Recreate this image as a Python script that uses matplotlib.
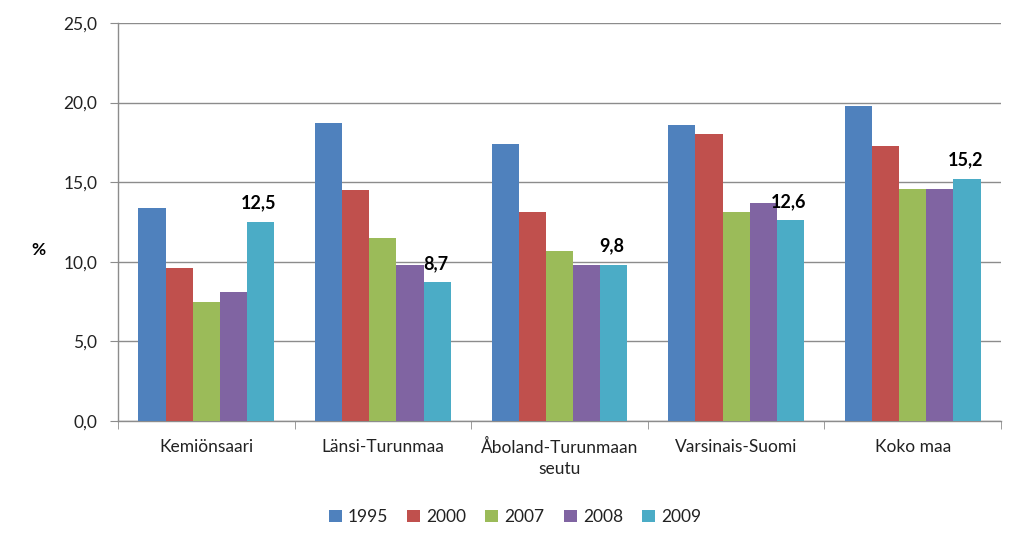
import matplotlib
matplotlib.use("Agg")
import matplotlib.pyplot as plt
import numpy as np
from matplotlib.ticker import FixedLocator, FuncFormatter

categories = ["Kemiönsaari", "Länsi-Turunmaa", "Åboland-Turunmaan\nseutu", "Varsinais-Suomi", "Koko maa"]
years = ["1995", "2000", "2007", "2008", "2009"]
v1995 = [13.4, 18.7, 17.4, 18.6, 19.8]
v2000 = [9.6, 14.5, 13.1, 18.0, 17.3]
v2007 = [7.5, 11.5, 10.7, 13.1, 14.6]
v2008 = [8.1, 9.8, 9.8, 13.7, 14.6]
v2009 = [12.5, 8.7, 9.8, 12.6, 15.2]
labels2009 = ["12,5", "8,7", "9,8", "12,6", "15,2"]
series = [v1995, v2000, v2007, v2008, v2009]
colors = ["#4F81BD", "#C0504D", "#9BBB59", "#8064A2", "#4BACC6"]

plt.rcParams['font.family'] = ['Lato', 'DejaVu Sans']

fig = plt.figure(figsize=(10.24, 5.47), dpi=100)
ax = fig.add_axes([118/1024, 1 - 421/547, (1001-118)/1024, (421-23)/547])

n = len(series)
bw = 1 / (n + 1.5)
x = np.arange(len(categories))
for i, (vals, c, y) in enumerate(zip(series, colors, years)):
    pos = x - (n - 1) / 2 * bw + i * bw
    ax.bar(pos, vals, width=bw, color=c, label=y, zorder=3)
    if i == n - 1:
        for p, v, t in zip(pos, vals, labels2009):
            ax.text(p - 0.01, v + 0.65, t, ha='center', va='bottom', fontsize=13,
                    fontweight='bold', color='black', zorder=4)

ax.set_xlim(-0.5, len(categories) - 0.5)
ax.set_ylim(0, 25)
ax.set_yticks([0, 5, 10, 15, 20, 25])
ax.yaxis.set_major_formatter(FuncFormatter(lambda v, p: f"{v:.1f}".replace('.', ',')))
ax.grid(axis='y', color='#8c8c8c', linewidth=1, zorder=0)
ax.set_axisbelow(True)

ax.set_xticks(x)
ax.set_xticklabels(categories, fontsize=12.5, color='#222222', linespacing=1.35)
ax.xaxis.set_minor_locator(FixedLocator(np.arange(-0.5, len(categories), 1)))
ax.tick_params(axis='x', which='major', length=0, pad=13)
ax.tick_params(axis='x', which='minor', length=6, color='#8c8c8c', direction='out')
ax.tick_params(axis='y', length=6, color='#8c8c8c', direction='out', labelsize=12.5,
               labelcolor='#222222', pad=9)

for s in ['top', 'right']:
    ax.spines[s].set_visible(False)
for s in ['left', 'bottom']:
    ax.spines[s].set_color('#8c8c8c')
    ax.spines[s].set_linewidth(1)

fig.text(38/1024, 1 - 250/547, "%", fontsize=12.5, fontweight='bold', ha='center', va='center')

leg = fig.legend(loc='center', bbox_to_anchor=(515/1024, 1 - 517/547), ncol=5, frameon=False,
                 fontsize=12.5, handlelength=0.75, handleheight=0.75, handletextpad=0.35,
                 columnspacing=1.1)
for t in leg.get_texts():
    t.set_color('#222222')

fig.savefig("out.png", dpi=100)
